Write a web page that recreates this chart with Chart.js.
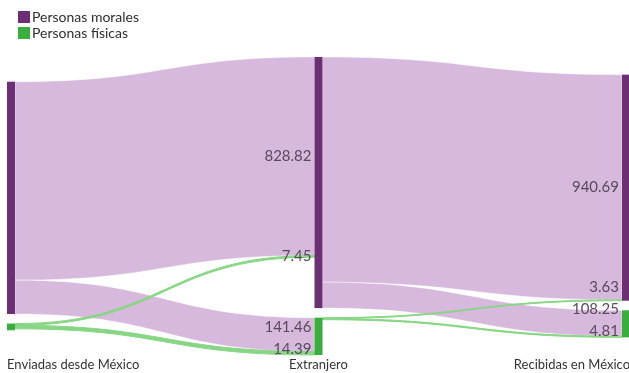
<!DOCTYPE html>
<html>
<head>
<meta charset="utf-8">
<script src="https://cdn.jsdelivr.net/npm/chart.js@4.4.0/dist/chart.umd.min.js"></script>
<style>
    body { margin: 0; background: #fff; font-family: Lato, sans-serif; }
    #wrap { position: relative; width: 629px; height: 373px; }
    #legend { position: absolute; left: 18px; top: 9px; font-size: 14px; color: #2e2e2e; line-height: 16px; }
    #legend div { display: flex; align-items: center; height: 16px; }
    #legend span.box { display: inline-block; width: 12px; height: 12px; margin-right: 2px; }
</style>
</head>
<body>
<div id="wrap">
    <canvas id="chart" width="629" height="373"></canvas>
    <div id="legend"></div>
</div>
<script>
// Data
const columns = ['Enviadas desde México', 'Extranjero', 'Recibidas en México'];
const categories = ['Personas morales', 'Personas físicas'];

// flows: stage = source column, from/to = category index
const flowStage  = [0, 0, 0, 0, 1, 1, 1, 1];
const flowFrom   = [0, 0, 1, 1, 0, 0, 1, 1];
const flowTo     = [0, 1, 0, 1, 0, 1, 0, 1];
const flowValues = [828.82, 141.46, 7.45, 14.39, 940.69, 108.25, 3.63, 4.81];

// Styles
const NODE_COLORS = ['#6c2f74', '#3aae3c'];
const FLOW_COLORS = ['#d6b9dc', '#88d685'];
const LABEL_COLOR = '#5a4a5d';
const NODE_W = 8;
const NODE_GAP = 40;   // in value units
const MIN_NODE = 28;
const FONT = 'Lato, sans-serif';

document.getElementById('legend').innerHTML = categories.map((c, i) =>
    `<div><span class="box" style="background:${NODE_COLORS[i]}"></span>${c}</div>`).join('');

function buildLayout(chart) {
    const ys = chart.scales.y;
    const center = (ys.min + ys.max) / 2;
    const nodes = [];
    for (let c = 0; c < columns.length; c++) {
        const col = categories.map((_, k) => {
            let inSum = 0, outSum = 0;
            flowValues.forEach((v, i) => {
                if (flowStage[i] === c && flowFrom[i] === k) outSum += v;
                if (flowStage[i] + 1 === c && flowTo[i] === k) inSum += v;
            });
            return { col: c, cat: k, h: Math.max(inSum, outSum, MIN_NODE) };
        });
        const total = col.reduce((s, n) => s + n.h, 0) + NODE_GAP * (col.length - 1);
        let top = center - total / 2;
        col.forEach(n => { n.y0 = top; n.y1 = top + n.h; n.outY = top; n.inY = top; top += n.h + NODE_GAP; });
        nodes.push(col);
    }
    const flows = flowValues.map((v, i) => ({ i, v, s: flowStage[i], from: flowFrom[i], to: flowTo[i] }));
    // outgoing offsets, sorted by target
    [...flows].sort((a, b) => a.s - b.s || a.from - b.from || a.to - b.to).forEach(f => {
        const n = nodes[f.s][f.from];
        f.sy0 = n.outY; f.sy1 = n.outY + f.v; n.outY += f.v;
    });
    // incoming offsets, sorted by source
    [...flows].sort((a, b) => a.s - b.s || a.to - b.to || a.from - b.from).forEach(f => {
        const n = nodes[f.s + 1][f.to];
        f.ty0 = n.inY; f.ty1 = n.inY + f.v; n.inY += f.v;
    });
    return { nodes, flows };
}

const sankeyPlugin = {
    id: 'sankey',
    afterDraw(chart) {
        const { ctx } = chart;
        const xs = chart.scales.x, ys = chart.scales.y;
        const { nodes, flows } = buildLayout(chart);
        const py = v => ys.getPixelForValue(v);

        // flows: lavender first, green on top
        [0, 1].forEach(cat => {
            flows.filter(f => f.from === cat).forEach(f => {
                const sx = xs.getPixelForValue(f.s) + NODE_W / 2;
                const tx = xs.getPixelForValue(f.s + 1) - NODE_W / 2;
                const mx = (sx + tx) / 2;
                const a0 = py(f.sy0), a1 = py(f.sy1), b0 = py(f.ty0), b1 = py(f.ty1);
                ctx.beginPath();
                ctx.moveTo(sx, a0);
                ctx.bezierCurveTo(mx, a0, mx, b0, tx, b0);
                ctx.lineTo(tx, b1);
                ctx.bezierCurveTo(mx, b1, mx, a1, sx, a1);
                ctx.closePath();
                ctx.fillStyle = FLOW_COLORS[cat];
                ctx.fill();
                if (cat === 0) {
                    ctx.strokeStyle = 'rgba(255,255,255,0.7)';
                    ctx.lineWidth = 0.6;
                } else {
                    ctx.strokeStyle = FLOW_COLORS[cat];
                    ctx.lineWidth = 1;
                }
                ctx.stroke();
            });
        });

        // nodes
        nodes.flat().forEach(n => {
            const cx = xs.getPixelForValue(n.col);
            ctx.fillStyle = NODE_COLORS[n.cat];
            ctx.fillRect(cx - NODE_W / 2, py(n.y0), NODE_W, py(n.y1) - py(n.y0));
        });

        // value labels at target, spread out inside each column
        ctx.font = `15px ${FONT}`;
        ctx.fillStyle = LABEL_COLOR;
        ctx.textAlign = 'right';
        ctx.textBaseline = 'middle';
        for (let c = 1; c < columns.length; c++) {
            const labels = flows.filter(f => f.s + 1 === c)
                .map(f => ({ f, y: py((f.ty0 + f.ty1) / 2) }))
                .sort((a, b) => a.y - b.y);
            const colBottom = py(nodes[c][nodes[c].length - 1].y1);
            const colTop = py(nodes[c][0].y0);
            const step = 22;
            for (let i = labels.length - 1; i >= 0; i--) {
                const lim = i === labels.length - 1 ? colBottom - 6 : labels[i + 1].y - step;
                labels[i].y = Math.min(labels[i].y, lim);
            }
            for (let i = 0; i < labels.length; i++) {
                const lim = i === 0 ? colTop + 8 : labels[i - 1].y + step;
                labels[i].y = Math.max(labels[i].y, lim);
            }
            const lx = xs.getPixelForValue(c) - NODE_W / 2 - 3;
            labels.forEach(l => ctx.fillText(l.f.v.toFixed(2), lx, l.y));
        }

        // column titles
        ctx.font = `13px ${FONT}`;
        ctx.fillStyle = '#333';
        ctx.textBaseline = 'alphabetic';
        columns.forEach((name, c) => {
            const cx = xs.getPixelForValue(c);
            const last = c === columns.length - 1;
            ctx.textAlign = c === 0 ? 'left' : (last ? 'right' : 'center');
            const x = c === 0 ? cx - NODE_W / 2 : (last ? cx + NODE_W / 2 : cx);
            ctx.fillText(name, x, chart.height - 4);
        });
    }
};

new Chart(document.getElementById('chart'), {
    type: 'scatter',
    data: { datasets: [{ data: [] }] },
    options: {
        responsive: false,
        animation: false,
        devicePixelRatio: 1,
        layout: { padding: { left: 11, right: 3, top: 48, bottom: 9 } },
        plugins: { legend: { display: false }, tooltip: { enabled: false } },
        scales: {
            x: { type: 'linear', min: 0, max: 2, display: false },
            y: { type: 'linear', min: 0, max: 1320, reverse: true, display: false }
        }
    },
    plugins: [sankeyPlugin]
});
</script>
</body>
</html>
